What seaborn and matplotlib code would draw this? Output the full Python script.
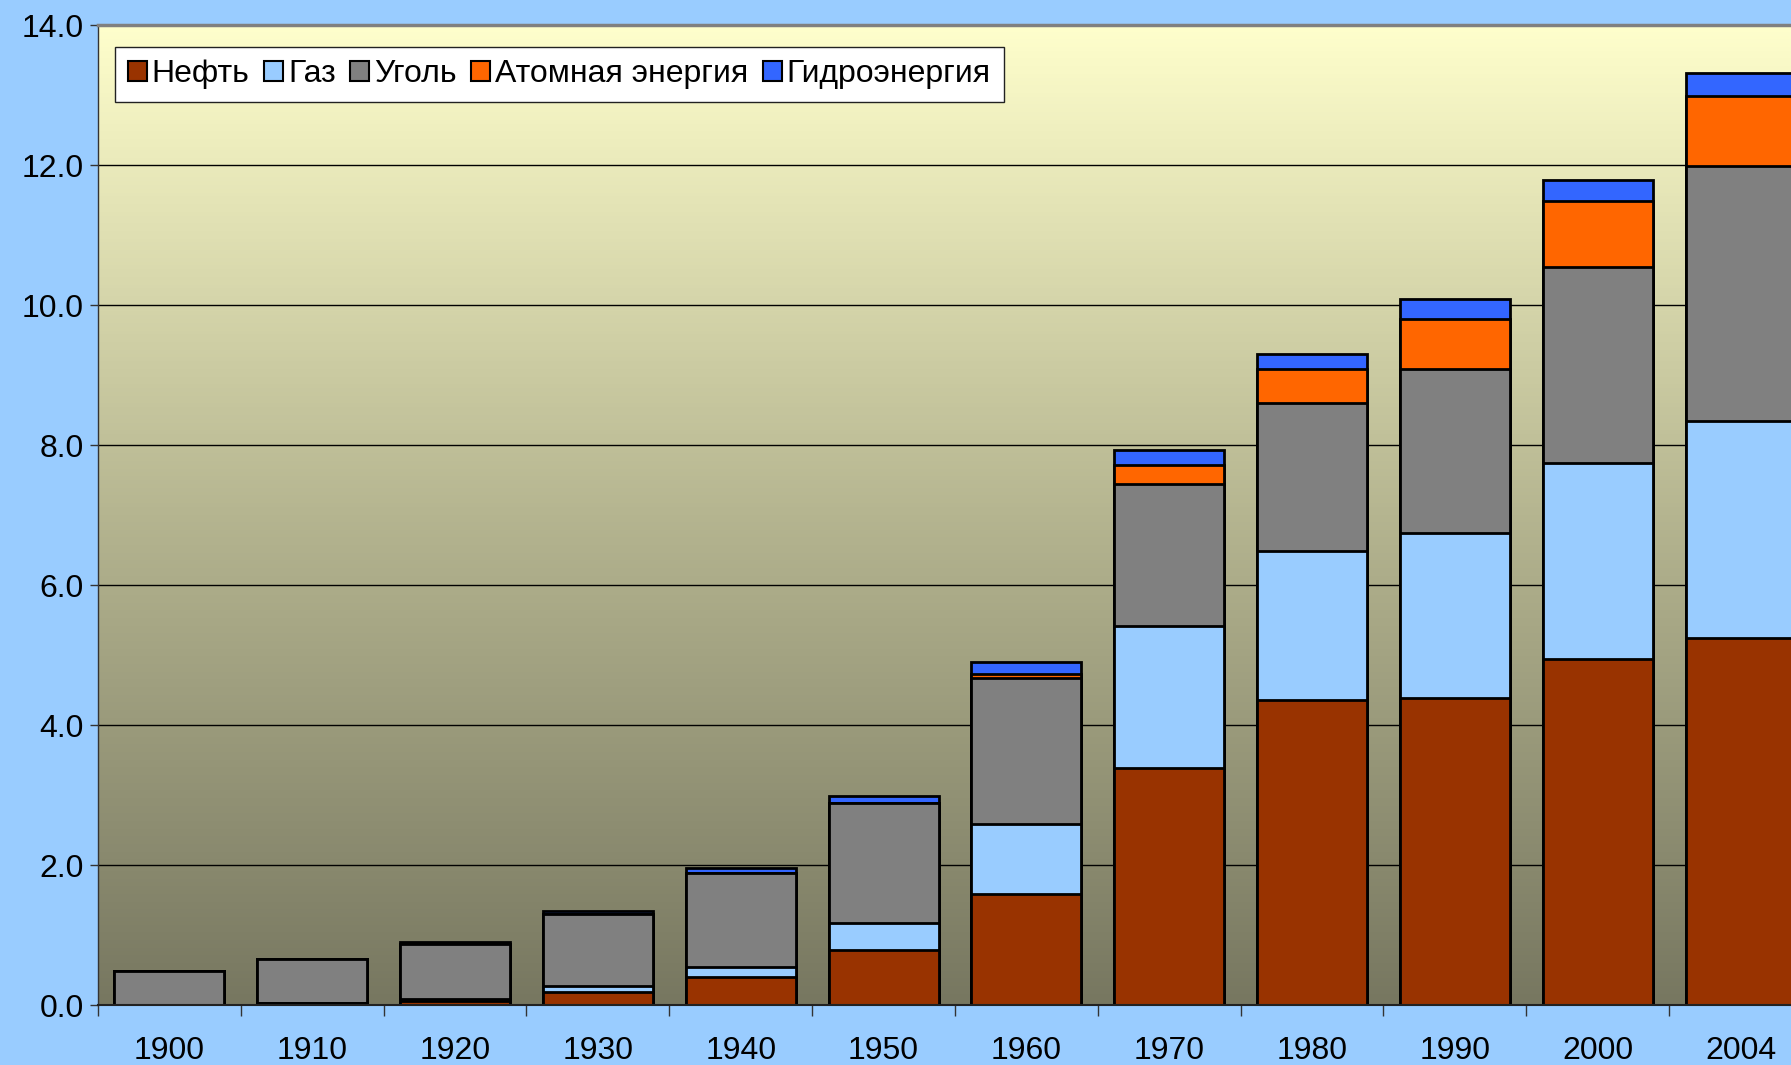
import numpy as np
import pandas as pd
import seaborn as sns
import matplotlib.pyplot as plt
from matplotlib.patches import Patch
from matplotlib.colors import LinearSegmentedColormap

years = ['1900', '1910', '1920', '1930', '1940', '1950', '1960', '1970', '1980', '1990', '2000', '2004']
oil = [0.0, 0.03, 0.06, 0.19, 0.40, 0.79, 1.58, 3.39, 4.36, 4.39, 4.94, 5.25]
gas = [0.0, 0.0, 0.02, 0.085, 0.15, 0.38, 1.00, 2.03, 2.12, 2.36, 2.81, 3.10]
coal = [0.49, 0.63, 0.79, 1.02, 1.34, 1.71, 2.09, 2.02, 2.12, 2.34, 2.80, 3.64]
nuclear = [0.0, 0.0, 0.0, 0.0, 0.0, 0.0, 0.06, 0.28, 0.49, 0.71, 0.93, 1.00]
hydro = [0.0, 0.0, 0.03, 0.05, 0.07, 0.11, 0.17, 0.21, 0.21, 0.28, 0.31, 0.32]

labels = ['Нефть', 'Газ', 'Уголь', 'Атомная энергия', 'Гидроэнергия']
colors = ['#993300', '#99CCFF', '#808080', '#FF6600', '#3366FF']

sns.set_style('white')
plt.rcParams['font.family'] = ['Liberation Sans', 'DejaVu Sans']
plt.rcParams['text.color'] = 'black'

df = pd.DataFrame({'year': years, 'oil': oil, 'gas': gas, 'coal': coal,
                   'nuclear': nuclear, 'hydro': hydro})
cols = ['oil', 'gas', 'coal', 'nuclear', 'hydro']
cum = df[cols].cumsum(axis=1)

fig = plt.figure(figsize=(17.91, 10.65), dpi=100, facecolor='#99CCFF')
ax = fig.add_axes([0.0547, 0.0563, 0.957, 0.9202])

# gradient background of the plot area
cmap = LinearSegmentedColormap.from_list('bg', ['#777760', '#B5B590', '#FFFFCC'])
grad = np.linspace(0, 1, 256).reshape(-1, 1)
ax.imshow(grad, aspect='auto', cmap=cmap, origin='lower',
          extent=(-0.5, 11.5, 0, 14), zorder=0)

# stacked bars: draw cumulative totals from the top layer down
for c, col in reversed(list(zip(colors, cols))):
    sns.barplot(x=df['year'], y=cum[col], color=c, saturation=1, width=0.77,
                edgecolor='black', linewidth=2, ax=ax, zorder=2)

ax.set_xlim(-0.5, 11.5)
ax.set_ylim(0, 14)
ax.set_xlabel('')
ax.set_ylabel('')

ax.set_yticks(np.arange(0, 14.1, 2))
ax.set_yticklabels([f'{v:.1f}' for v in np.arange(0, 14.1, 2)])
ax.yaxis.grid(True, color='black', linewidth=1)
ax.xaxis.grid(False)
ax.set_axisbelow(True)

ax.set_xticks(range(len(years)))
ax.set_xticklabels(years)
ax.set_xticks(np.arange(-0.5, 11.6, 1), minor=True)
ax.tick_params(axis='x', which='major', length=0, labelsize=23, pad=22, labelcolor='black')
ax.tick_params(axis='x', which='minor', length=8, width=1, color='#333333', direction='out', bottom=True)
ax.tick_params(axis='y', length=6, width=1, color='#333333', direction='out', labelsize=23, pad=4,
               left=True, labelcolor='black')

ax.spines['top'].set_color('#808080')
ax.spines['top'].set_linewidth(2.5)
ax.spines['left'].set_color('#333333')
ax.spines['left'].set_linewidth(1)
ax.spines['bottom'].set_color('#222222')
ax.spines['bottom'].set_linewidth(1.5)
ax.spines['right'].set_visible(False)

handles = [Patch(facecolor=c, edgecolor='black', linewidth=1.5) for c in colors]
leg = ax.legend(handles, labels, ncol=5, loc='upper left', bbox_to_anchor=(0.01, 0.978),
                fontsize=23, frameon=True, fancybox=False, edgecolor='#222222',
                handlelength=0.6, handleheight=0.6, handletextpad=0.15,
                columnspacing=0.45, borderpad=0.4, borderaxespad=0, labelcolor='black')
leg.get_frame().set_linewidth(1)
leg.get_frame().set_facecolor('white')
leg.get_frame().set_alpha(1)

fig.savefig('out.png', dpi=100, facecolor=fig.get_facecolor())
